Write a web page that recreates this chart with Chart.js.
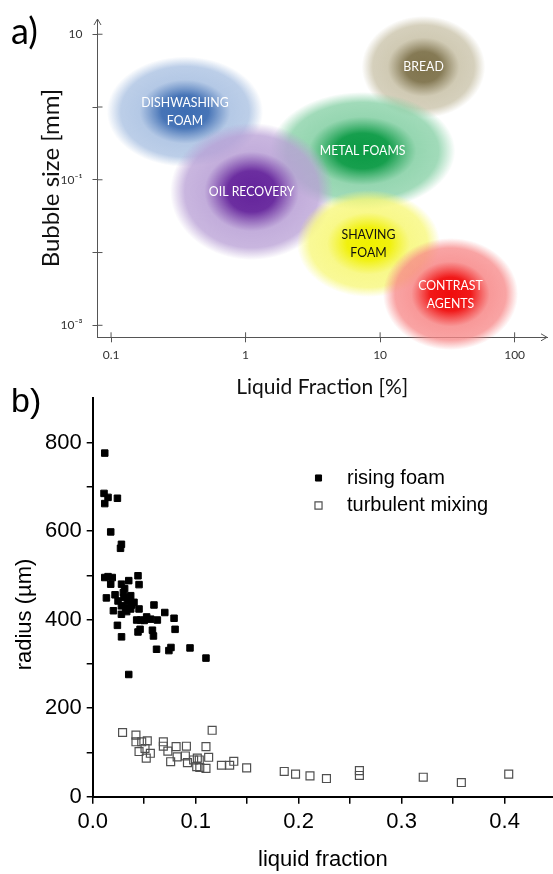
<!DOCTYPE html>
<html>
<head>
<meta charset="utf-8">
<script src="https://cdn.jsdelivr.net/npm/chart.js@4.4.1/dist/chart.umd.min.js"></script>
<style>
  html, body { margin: 0; padding: 0; background: #fff; }
  #wrap { position: relative; width: 553px; height: 874px; overflow: hidden; }
  #chartB { position: absolute; left: 0; top: 380px; }
  #chartA { position: absolute; left: 0; top: 0; }
</style>
</head>
<body>
<div id="wrap">
  <canvas id="chartB" width="553" height="494"></canvas>
  <canvas id="chartA" width="553" height="400"></canvas>
</div>
<script>
// ---- panel a: foam families, liquid fraction [%] vs bubble size [mm]
const blobNames = [['DISHWASHING', 'FOAM'], ['BREAD'], ['METAL FOAMS'], ['OIL RECOVERY'], ['SHAVING', 'FOAM'], ['CONTRAST', 'AGENTS']];
const fractionLo = [0.093, 7.3, 1.52, 0.275, 2.41, 10.5];
const fractionHi = [1.35, 60.5, 36.2, 4.48, 27.9, 106];
const sizeLo = [0.151, 0.708, 0.0385, 0.00789, 0.00245, 0.000457];
const sizeHi = [4.93, 17.8, 1.61, 0.604, 0.0723, 0.0158];
const fractionTicks = [0.1, 1, 10, 100];
const fractionTickLabels = ['0.1', '1', '10', '100'];
const sizeTicks = [0.001, 0.01, 0.1, 1, 10];
const sizeTickLabels = ['10⁻³', '', '10⁻¹', '', '10'];

// ---- panel b: bubble radius vs liquid fraction
const foamFraction = [0.0117, 0.011, 0.0149, 0.024, 0.0117, 0.0175, 0.0279, 0.027, 0.0117, 0.0149,
  0.019, 0.0175, 0.028, 0.035, 0.044, 0.045, 0.0133, 0.0217, 0.0246, 0.0298,
  0.0304, 0.0337, 0.0369, 0.0401, 0.0279, 0.032, 0.0369, 0.045, 0.0201, 0.0279,
  0.0595, 0.07, 0.079, 0.08, 0.0427, 0.0466, 0.0524, 0.0563, 0.0628, 0.024,
  0.044, 0.046, 0.058, 0.059, 0.028, 0.062, 0.074, 0.076, 0.0945, 0.11,
  0.035, 0.033, 0.038, 0.05, 0.031];
const foamRadius = [776, 685, 676, 674, 662, 598, 570, 561, 495, 497,
  495, 480, 480, 488, 499, 479, 449, 456, 442, 461,
  450, 442, 454, 439, 431, 427, 424, 424, 420, 412,
  433, 416, 403, 378, 399, 399, 406, 401, 399, 387,
  372, 378, 376, 363, 361, 333, 330, 337, 336, 313,
  276, 418, 433, 398, 470];
const mixFraction = [0.029, 0.042, 0.042, 0.0476, 0.053, 0.045, 0.0508, 0.052, 0.056, 0.0686,
  0.0686, 0.073, 0.0757, 0.081, 0.082, 0.091, 0.09, 0.092, 0.1016, 0.1035,
  0.104, 0.11, 0.1126, 0.11, 0.116, 0.125, 0.133, 0.137, 0.1495, 0.098,
  0.101, 0.186, 0.197, 0.211, 0.227, 0.259, 0.259, 0.321, 0.358, 0.404];
const mixRadius = [145, 139, 124, 124, 126, 102, 109, 87, 98, 124,
  114, 103, 79, 113, 90, 114, 92, 77, 87, 83,
  66, 113, 89, 64, 150, 71, 71, 80, 65, 83,
  68, 57, 51, 47, 41, 59, 48, 44, 32, 51];
const xTickValues = [0, 0.05, 0.1, 0.15, 0.2, 0.25, 0.3, 0.35, 0.4];
const xTickLabels = ['0.0', '', '0.1', '', '0.2', '', '0.3', '', '0.4'];
const yTickValues = [0, 100, 200, 300, 400, 500, 600, 700, 800];
const yTickLabels = ['0', '', '200', '', '400', '', '600', '', '800'];

const blobCore = ['#3d6db3', '#7f734c', '#0a9a44', '#64239b', '#f0f000', '#f00c0c'];
const blobHalo = ['#a7bfe1', '#c8c1a7', '#83cfa3', '#b89fd5', '#f7f776', '#f78787'];
const blobInk = ['#fff', '#fff', '#fff', '#fff', '#111', '#fff'];

function rgba(hex, a) {
  const n = parseInt(hex.slice(1), 16);
  return 'rgba(' + (n >> 16) + ',' + ((n >> 8) & 255) + ',' + (n & 255) + ',' + a + ')';
}

const blobPlugin = {
  id: 'blobs',
  beforeDatasetsDraw(chart) {
    const { ctx, scales: { x, y } } = chart;
    blobNames.forEach((name, i) => {
      const x0 = x.getPixelForValue(fractionLo[i]), x1 = x.getPixelForValue(fractionHi[i]);
      const y0 = y.getPixelForValue(sizeHi[i]), y1 = y.getPixelForValue(sizeLo[i]);
      ctx.save();
      ctx.translate((x0 + x1) / 2, (y0 + y1) / 2);
      ctx.scale((x1 - x0) / 2, (y1 - y0) / 2);
      const g = ctx.createRadialGradient(0, 0, 0, 0, 0, 1);
      g.addColorStop(0, rgba(blobCore[i], 1));
      g.addColorStop(0.3, rgba(blobCore[i], 0.95));
      g.addColorStop(0.58, rgba(blobHalo[i], 0.85));
      g.addColorStop(0.82, rgba(blobHalo[i], 0.76));
      g.addColorStop(1, rgba(blobHalo[i], 0));
      ctx.fillStyle = g;
      ctx.beginPath();
      ctx.arc(0, 0, 1, 0, Math.PI * 2);
      ctx.fill();
      ctx.restore();
    });
  },
  afterDatasetsDraw(chart) {
    const { ctx } = chart;
    const pts = chart.getDatasetMeta(0).data;
    ctx.save();
    ctx.font = '14px Lato';
    ctx.textAlign = 'center';
    ctx.textBaseline = 'middle';
    blobNames.forEach((lines, i) => {
      ctx.fillStyle = blobInk[i];
      lines.forEach((t, k) => {
        const dy = (k - (lines.length - 1) / 2) * 18;
        ctx.save();
        ctx.translate(pts[i].x, pts[i].y + dy);
        ctx.scale(0.88, 1);
        ctx.fillText(t, 0, 0);
        ctx.restore();
      });
    });
    ctx.restore();
  },
  afterDraw(chart) {
    // inner half of the cross ticks and the axis arrows
    const { ctx, chartArea: a, scales: { x, y } } = chart;
    ctx.save();
    ctx.strokeStyle = '#555';
    ctx.lineWidth = 1;
    ctx.beginPath();
    x.ticks.forEach(t => { const p = x.getPixelForValue(t.value); ctx.moveTo(p, a.bottom); ctx.lineTo(p, a.bottom - 5); });
    y.ticks.forEach(t => { const p = y.getPixelForValue(t.value); ctx.moveTo(a.left, p); ctx.lineTo(a.left + 5, p); });
    ctx.moveTo(a.left - 3.5, a.top + 6); ctx.lineTo(a.left, a.top); ctx.lineTo(a.left + 3.5, a.top + 6);
    ctx.moveTo(a.right - 6, a.bottom - 3.5); ctx.lineTo(a.right, a.bottom); ctx.lineTo(a.right - 6, a.bottom + 3.5);
    ctx.stroke();
    ctx.fillStyle = '#000';
    ctx.font = '36px Lato';
    ctx.textBaseline = 'alphabetic';
    ctx.fillText('a)', 11, 44);
    ctx.restore();
  }
};

new Chart(document.getElementById('chartA'), {
  type: 'scatter',
  data: {
    datasets: [{
      data: blobNames.map((n, i) => ({
        x: Math.sqrt(fractionLo[i] * fractionHi[i]),
        y: Math.sqrt(sizeLo[i] * sizeHi[i])
      })),
      pointRadius: 0
    }]
  },
  options: {
    responsive: false,
    animation: false,
    layout: { autoPadding: false, padding: { top: 19, right: 6 } },
    plugins: { legend: { display: false }, tooltip: { enabled: false } },
    scales: {
      x: {
        type: 'logarithmic',
        min: 0.0793,
        max: 174,
        afterBuildTicks: s => { s.ticks = fractionTicks.map(v => ({ value: v })); },
        afterFit: s => { s.height = 62.7; s.paddingLeft = 0; s.paddingRight = 0; },
        border: { color: '#555', width: 1 },
        grid: { drawOnChartArea: false, tickLength: 5, color: '#555' },
        ticks: {
          autoSkip: false, maxRotation: 0, padding: 6, color: '#333',
          font: { family: 'Lato', size: 12 },
          callback: (v, i) => fractionTickLabels[i]
        },
        title: {
          display: true, text: 'Liquid Fraction [%]', color: '#111',
          font: { family: 'Lato', size: 21 }, padding: { top: 0, bottom: 0 }
        }
      },
      y: {
        type: 'logarithmic',
        min: 0.000684,
        max: 16.2,
        afterBuildTicks: s => { s.ticks = sizeTicks.map(v => ({ value: v })); },
        afterFit: s => { s.width = 97.5; },
        border: { color: '#555', width: 1 },
        grid: { drawOnChartArea: false, tickLength: 5, color: '#555' },
        ticks: {
          autoSkip: false, padding: 10, color: '#333',
          font: { family: 'Lato', size: 12 },
          callback: (v, i) => sizeTickLabels[i]
        },
        title: {
          display: true, text: 'Bubble size [mm]', color: '#111',
          font: { family: 'Lato', size: 24 }, padding: { top: 37, bottom: 0 }
        }
      }
    }
  },
  plugins: [blobPlugin]
});

// ---- panel b
const bFont = '"Liberation Sans", Arial, sans-serif';

const legendB = {
  id: 'legendB',
  afterDraw(chart) {
    const { ctx } = chart;
    ctx.save();
    chart.data.datasets.forEach((ds, i) => {
      const yy = 98 + i * 27.5;
      ctx.fillStyle = ds.backgroundColor;
      ctx.strokeStyle = ds.borderColor;
      ctx.lineWidth = ds.borderWidth;
      Chart.helpers.drawPoint(ctx, { pointStyle: 'rect', radius: i === 0 ? 4.3 : 5, borderWidth: ds.borderWidth, rotation: 0 }, 318.5, yy);
      ctx.fillStyle = '#000';
      ctx.font = '20px ' + bFont;
      ctx.textBaseline = 'middle';
      ctx.fillText(ds.label, 347, yy);
    });
    ctx.font = '34px ' + bFont;
    ctx.textBaseline = 'alphabetic';
    ctx.fillText('b)', 11, 32);
    ctx.translate(25, 234.5);
    ctx.rotate(-Math.PI / 2);
    ctx.font = '22px ' + bFont;
    ctx.textAlign = 'center';
    ctx.textBaseline = 'middle';
    ctx.fillText('radius (µm)', 0, 0);
    ctx.restore();
  }
};

new Chart(document.getElementById('chartB'), {
  type: 'scatter',
  data: {
    datasets: [
      {
        label: 'rising foam',
        data: foamFraction.map((x, i) => ({ x, y: foamRadius[i] })),
        pointStyle: 'rect', pointRadius: 4.6,
        backgroundColor: '#000', borderColor: '#000', borderWidth: 1
      },
      {
        label: 'turbulent mixing',
        data: mixFraction.map((x, i) => ({ x, y: mixRadius[i] })),
        pointStyle: 'rect', pointRadius: 5.6,
        backgroundColor: 'rgba(0,0,0,0)', borderColor: '#505050', borderWidth: 1.2
      }
    ]
  },
  options: {
    responsive: false,
    animation: false,
    layout: { autoPadding: false, padding: { top: 18, right: 0 } },
    plugins: { legend: { display: false }, tooltip: { enabled: false } },
    scales: {
      x: {
        type: 'linear', min: 0, max: 0.447,
        afterBuildTicks: s => { s.ticks = xTickValues.map(v => ({ value: v })); },
        afterFit: s => { s.height = 77.3; s.paddingLeft = 0; s.paddingRight = 0; },
        border: { color: '#000', width: 2 },
        grid: { drawOnChartArea: false, tickLength: 7, color: '#000', lineWidth: 1.5 },
        ticks: {
          autoSkip: false, maxRotation: 0, padding: 5, color: '#000',
          font: { family: bFont, size: 22 },
          callback: (v, i) => xTickLabels[i]
        },
        title: {
          display: true, text: 'liquid fraction', color: '#000',
          font: { family: bFont, size: 22 }, padding: { top: 0, bottom: 1 }
        }
      },
      y: {
        type: 'linear', min: 0, max: 900,
        afterBuildTicks: s => { s.ticks = yTickValues.map(v => ({ value: v })); },
        afterFit: s => { s.width = 92.7; },
        border: { color: '#000', width: 2 },
        grid: { drawOnChartArea: false, tickLength: 6, color: '#000', lineWidth: 1.5 },
        ticks: {
          autoSkip: false, padding: 5, color: '#000',
          font: { family: bFont, size: 22 },
          callback: (v, i) => yTickLabels[i]
        }
      }
    }
  },
  plugins: [legendB]
});
</script>
</body>
</html>
